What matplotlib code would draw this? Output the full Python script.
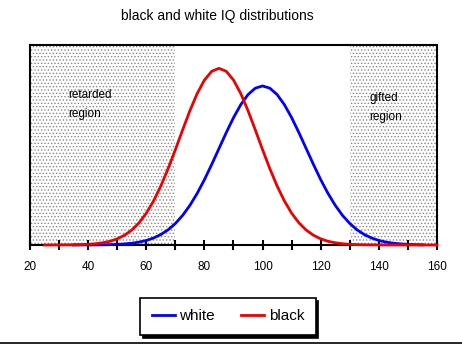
import numpy as np
import matplotlib.pyplot as plt
from matplotlib.lines import Line2D

plt.rcParams['font.family'] = ['Liberation Sans', 'DejaVu Sans']
plt.rcParams['hatch.linewidth'] = 0.6

# IQ grid for each series (step 2.5)
white_iq = np.arange(35, 155.1, 2.5)
black_iq = np.arange(25, 160.1, 2.5)

# density values (x1000)
white = [0.00, 0.01, 0.01, 0.02, 0.03, 0.06, 0.10, 0.18, 0.30, 0.48, 0.76, 1.17, 1.75,
         2.54, 3.60, 4.95, 6.63, 8.63, 10.93, 13.47, 16.13, 18.79, 21.30, 23.47, 25.16,
         26.23, 26.60,
         26.23, 25.16, 23.47, 21.30, 18.79, 16.13, 13.47, 10.93, 8.63, 6.63, 4.95, 3.60,
         2.54, 1.75, 1.17, 0.76, 0.48, 0.30, 0.18, 0.10, 0.06, 0.03]
black = [0.00, 0.00, 0.01, 0.02, 0.03, 0.06, 0.11, 0.21, 0.37, 0.62, 1.03, 1.63, 2.50,
         3.71, 5.32, 7.37, 9.87, 12.76, 15.94, 19.25, 22.46, 25.33, 27.59, 29.05, 29.55,
         29.05, 27.59, 25.33, 22.46, 19.25, 15.94, 12.76, 9.87, 7.37, 5.32, 3.71, 2.50,
         1.63, 1.03, 0.62, 0.37, 0.21, 0.11, 0.06, 0.03, 0.02, 0.01, 0.00, 0.00,
         0.00, 0.00, 0.00, 0.00, 0.00, 0.00]

retarded = (20, 70)
gifted = (130, 160)

fig = plt.figure(figsize=(4.62, 3.47), dpi=100)
ax = fig.add_axes([30/462, 102/347, 407/462, 200/347])

# stippled regions
for lo, hi in (retarded, gifted):
    ax.axvspan(lo, hi, facecolor='white', edgecolor='#888888', hatch='.....', linewidth=0, zorder=0)

ax.plot(white_iq, white, color='#0000ff', lw=2.0, zorder=4, clip_on=False, label='white')
ax.plot(black_iq, black, color='#ee0000', lw=2.0, zorder=5, clip_on=False, label='black')

ax.set_xlim(20, 160)
ax.set_ylim(0, 33.45)
ax.set_yticks([])
ax.set_xticks(np.arange(20, 161, 20))
ax.set_xticks(np.arange(20, 161, 10), minor=True)
ax.tick_params(axis='x', which='both', direction='inout', length=6.5, width=1.5, labelsize=8.5, pad=8)
for s in ax.spines.values():
    s.set_linewidth(1.5)

ax.text(33, 26.1, 'retarded\nregion', fontsize=8.5, va='top', ha='left', linespacing=1.75)
ax.text(136.8, 25.6, 'gifted\nregion', fontsize=8.5, va='top', ha='left', linespacing=1.75)

fig.text(0.47, 0.955, 'black and white IQ distributions', fontsize=10, ha='center', va='center')

leg = fig.legend(loc='center', bbox_to_anchor=(228/462, 0.088), ncol=2, fontsize=11,
                 frameon=True, fancybox=False, edgecolor='black',
                 shadow={'color': 'black', 'alpha': 1}, handlelength=1.5,
                 handletextpad=0.3, columnspacing=1.7, borderpad=0.76)
leg.get_frame().set_linewidth(1.2)

fig.add_artist(Line2D([0, 1], [4/347, 4/347], color='black', lw=1.2))

fig.savefig('out.png', dpi=100)
